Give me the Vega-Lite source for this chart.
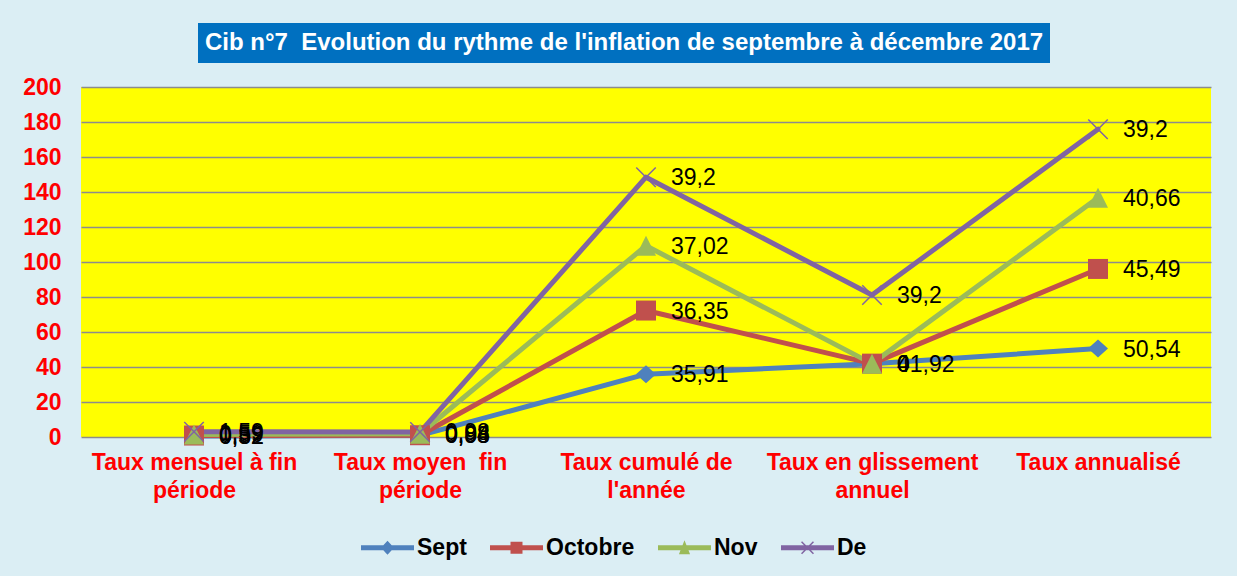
{
  "$schema": "https://vega.github.io/schema/vega-lite/v6.json",
  "padding": {"left": 22, "top": 23, "right": 26, "bottom": 16},
  "spacing": 13,
  "center": true,
  "config": {
    "background": "#DBEEF4",
    "locale": {"number": {"decimal": ",", "thousands": "\u00a0", "grouping": [3], "currency": ["", " €"]}},
    "font": "Liberation Sans"
  },
  "vconcat": [
    {
      "spacing": 14,
      "hconcat": [
        {
          "width": 852,
          "height": 40,
          "view": {"fill": "#0070C0", "stroke": null},
          "data": {"values": [{"t": "Cib n°7\u00a0 Evolution du rythme de l'inflation de septembre à décembre 2017"}]},
          "mark": {"type": "text", "font": "Liberation Sans", "fontSize": 24, "fontWeight": "bold", "color": "#FFFFFF", "align": "center", "baseline": "middle"},
          "encoding": {"text": {"field": "t", "type": "nominal"}}
        },
        {
          "width": 30,
          "height": 40,
          "view": {"fill": null, "stroke": null},
          "data": {"values": [{"t": ""}]},
          "mark": {"type": "text"},
          "encoding": {"text": {"field": "t", "type": "nominal"}}
        }
      ]
    },
    {
      "width": 1130,
      "height": 350,
      "view": {"fill": "#FFFF00", "stroke": null},
      "data": {"values": [
        {"cat": "Taux mensuel à fin période", "serie": "Sept", "k": 1, "v": 0.52},
        {"cat": "Taux moyen  fin période", "serie": "Sept", "k": 1, "v": 0.93},
        {"cat": "Taux cumulé de l'année", "serie": "Sept", "k": 1, "v": 35.91},
        {"cat": "Taux en glissement annuel", "serie": "Sept", "k": 1, "v": 41.92},
        {"cat": "Taux annualisé", "serie": "Sept", "k": 1, "v": 50.54},
        {"cat": "Taux mensuel à fin période", "serie": "Octobre", "k": 2, "v": 0.32},
        {"cat": "Taux moyen  fin période", "serie": "Octobre", "k": 2, "v": 0.08},
        {"cat": "Taux cumulé de l'année", "serie": "Octobre", "k": 2, "v": 36.35},
        {"cat": "Taux en glissement annuel", "serie": "Octobre", "k": 2, "v": 0},
        {"cat": "Taux annualisé", "serie": "Octobre", "k": 2, "v": 45.49},
        {"cat": "Taux mensuel à fin période", "serie": "Nov", "k": 3, "v": 0.59},
        {"cat": "Taux moyen  fin période", "serie": "Nov", "k": 3, "v": 0.84},
        {"cat": "Taux cumulé de l'année", "serie": "Nov", "k": 3, "v": 37.02},
        {"cat": "Taux en glissement annuel", "serie": "Nov", "k": 3, "v": 0},
        {"cat": "Taux annualisé", "serie": "Nov", "k": 3, "v": 40.66},
        {"cat": "Taux mensuel à fin période", "serie": "De", "k": 4, "v": 1.59},
        {"cat": "Taux moyen  fin période", "serie": "De", "k": 4, "v": 0.98},
        {"cat": "Taux cumulé de l'année", "serie": "De", "k": 4, "v": 39.2},
        {"cat": "Taux en glissement annuel", "serie": "De", "k": 4, "v": 39.2},
        {"cat": "Taux annualisé", "serie": "De", "k": 4, "v": 39.2}
      ]},
      "transform": [
        {"stack": "v", "groupby": ["cat"], "sort": [{"field": "k", "order": "ascending"}], "as": ["y0", "y1"]}
      ],
      "encoding": {
        "x": {
          "field": "cat", "type": "nominal",
          "sort": ["Taux mensuel à fin période", "Taux moyen  fin période", "Taux cumulé de l'année", "Taux en glissement annuel", "Taux annualisé"],
          "scale": {"type": "point", "padding": 0.5},
          "axis": {
            "title": null, "labelAngle": 0, "domain": false, "ticks": false, "grid": false,
            "labelFont": "Liberation Sans", "labelFontSize": 23, "labelFontWeight": "bold", "labelColor": "#FF0000",
            "labelPadding": 14, "labelLineHeight": 28, "labelLimit": 400, "labelOverlap": false,
            "labelExpr": "datum.label == 'Taux mensuel à fin période' ? ['Taux mensuel à fin', 'période'] : datum.label == 'Taux moyen  fin période' ? ['Taux moyen\u00a0 fin', 'période'] : datum.label == \"Taux cumulé de l'année\" ? ['Taux cumulé de', \"l'année\"] : datum.label == 'Taux en glissement annuel' ? ['Taux en glissement', 'annuel'] : datum.label"
          }
        },
        "y": {
          "field": "y1", "type": "quantitative",
          "scale": {"domain": [0, 200], "nice": false},
          "axis": {
            "title": null, "values": [0, 20, 40, 60, 80, 100, 120, 140, 160, 180, 200],
            "domain": false, "ticks": false,
            "labelFont": "Liberation Sans", "labelFontSize": 23, "labelFontWeight": "bold", "labelColor": "#FF0000",
            "labelPadding": 20, "gridColor": "#8c8c8c", "gridWidth": 1.5
          }
        }
      },
      "layer": [
        {
          "mark": {"type": "point", "filled": true, "opacity": 1, "size": 0},
          "encoding": {
            "color": {
              "field": "serie", "type": "nominal",
              "scale": {"domain": ["Sept", "Octobre", "Nov", "De"], "range": ["#4F81BD", "#C0504D", "#9BBB59", "#8064A2"]},
              "legend": {
                "title": null, "orient": "none", "direction": "horizontal", "legendX": 280, "legendY": 498,
                "symbolOpacity": 1, "symbolSize": 2809, "symbolStrokeWidth": 0,
                "labelFont": "Liberation Sans", "labelFontSize": 23, "labelFontWeight": "bold", "labelColor": "#000000",
                "labelOffset": 3, "columnPadding": 23
              }
            },
            "shape": {
              "field": "serie", "type": "nominal",
              "scale": {
                "domain": ["Sept", "Octobre", "Nov", "De"],
                "range": [
                  "M-1,-0.094H1V0.094H-1Z M0,-0.264L0.245,0L0,0.264L-0.245,0Z",
                  "M-1,-0.094H1V0.094H-1Z M-0.226,-0.226H0.226V0.226H-0.226Z",
                  "M-1,-0.094H1V0.094H-1Z M0,-0.283L0.21,0.245H-0.21Z",
                  "M-1,-0.094H1V0.094H-1Z M-0.245,-0.205L-0.205,-0.245L0.245,0.205L0.205,0.245Z M0.205,-0.245L0.245,-0.205L-0.205,0.245L-0.245,0.205Z"
                ]
              }
            }
          }
        },
        {
          "mark": {"type": "line", "strokeWidth": 5, "strokeJoin": "round", "strokeCap": "round"},
          "encoding": {
            "color": {"field": "serie", "type": "nominal"}
          }
        },
        {
          "transform": [{"filter": "datum.serie == 'Sept'"}],
          "mark": {"type": "point", "filled": true, "opacity": 1, "color": "#4F81BD", "shape": "M0,-0.9L1,0L0,0.9L-1,0Z", "size": 400}
        },
        {
          "transform": [{"filter": "datum.serie == 'Octobre'"}],
          "mark": {"type": "point", "filled": true, "opacity": 1, "color": "#C0504D", "shape": "square", "size": 400}
        },
        {
          "transform": [{"filter": "datum.serie == 'Nov'"}],
          "mark": {"type": "point", "filled": true, "opacity": 1, "color": "#9BBB59", "shape": "M0,-1L1,1H-1Z", "size": 400}
        },
        {
          "transform": [{"filter": "datum.serie == 'De'"}],
          "mark": {"type": "point", "filled": false, "opacity": 1, "color": "#8064A2", "shape": "M-1,-1L1,1M-1,1L1,-1", "size": 380, "strokeWidth": 1.5}
        },
        {
          "mark": {"type": "text", "align": "left", "baseline": "middle", "dx": 25, "dy": 1, "font": "Liberation Sans", "fontSize": 23, "color": "#000000"},
          "encoding": {
            "text": {"field": "v", "type": "quantitative", "format": ".2~f"}
          }
        }
      ]
    }
  ]
}
